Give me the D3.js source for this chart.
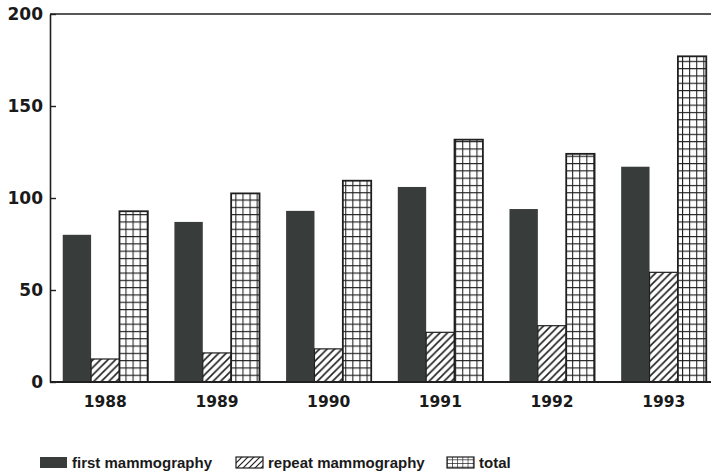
<html>
<head>
<script src="https://d3js.org/d3.v7.min.js"></script>
<style>
  body { margin: 0; background: #fff; }
  svg { display: block; }
</style>
</head>
<body>
<svg id="chart" width="711" height="474"></svg>
<script>
const years = ["1988", "1989", "1990", "1991", "1992", "1993"];
const series = ["first", "repeat", "total"];
const firstMammo = [80, 87, 93, 106, 94, 117];
const repeatMammo = [12.5, 15.8, 18, 27, 30.6, 59.6];
const totalMammo = [92.8, 102.5, 109.4, 131.7, 124, 177];
const yTicks = [0, 50, 100, 150, 200];
const legendLabels = ["first mammography", "repeat mammography", "total"];

const ink = "#1f1f1f", dark = "#383c3b";
const svg = d3.select("#chart");
const defs = svg.append("defs");

const x0 = d3.scaleBand().domain(years).range([51, 718]).paddingInner(0.238).paddingOuter(0.105);
const x1 = d3.scaleBand().domain(series).range([0, x0.bandwidth()]);
const y = d3.scaleLinear().domain([0, 200]).range([382, 14]);

const values = { first: firstMammo, repeat: repeatMammo, total: totalMammo };

// hatch pattern (/)
const hatch = defs.append("pattern").attr("id", "hatch")
  .attr("patternUnits", "userSpaceOnUse").attr("width", 7.5).attr("height", 7.5);
hatch.append("path").attr("d", "M-1,1 l2,-2 M0,7.5 l7.5,-7.5 M6.5,8.5 l2,-2")
  .attr("stroke", ink).attr("stroke-width", 1.6);

function gridPattern(id, x0p, y0p, w) {
  const p = defs.append("pattern").attr("id", id)
    .attr("patternUnits", "userSpaceOnUse")
    .attr("x", x0p).attr("y", y0p).attr("width", w).attr("height", 7.3);
  p.append("rect").attr("width", w).attr("height", 7.3).attr("fill", "#fff");
  p.append("path").attr("d", `M0,0 H${w} M0,0 V7.3`)
    .attr("stroke", ink).attr("stroke-width", 2.1).attr("fill", "none");
  return `url(#${id})`;
}

const rows = years.map((yr, i) => ({ year: yr, i }));
const groups = svg.selectAll("g.grp").data(rows).join("g")
  .attr("class", "grp")
  .attr("transform", d => `translate(${x0(d.year)},0)`);

groups.each(function(d) {
  const g = d3.select(this);
  series.forEach(s => {
    const v = values[s][d.i];
    const bx = x1(s), bw = x1.bandwidth();
    const r = g.append("rect")
      .attr("x", bx).attr("width", bw)
      .attr("y", y(v)).attr("height", y(0) - y(v));
    if (s === "first") r.attr("fill", dark);
    else if (s === "repeat") r.attr("fill", "url(#hatch)").attr("stroke", ink).attr("stroke-width", 1.2);
    else r.attr("fill", gridPattern("grid" + d.i, x0(d.year) + bx, y(0), bw / 4))
          .attr("stroke", ink).attr("stroke-width", 1.8);
  });
});

// frame lines
svg.append("line").attr("x1", 50).attr("x2", 711).attr("y1", 14).attr("y2", 14)
  .attr("stroke", ink).attr("stroke-width", 1.6);
svg.append("line").attr("x1", 50).attr("x2", 711).attr("y1", 382).attr("y2", 382)
  .attr("stroke", ink).attr("stroke-width", 1.8);

const yAxis = svg.append("g").attr("transform", "translate(50,0)")
  .call(d3.axisLeft(y).tickValues(yTicks).tickSizeInner(-6).tickSizeOuter(0).tickPadding(7));
yAxis.select(".domain").attr("stroke", ink).attr("stroke-width", 1.6);
yAxis.selectAll(".tick line").attr("stroke", ink).attr("stroke-width", 1.4);
yAxis.selectAll("text").attr("fill", "#1a1a1a")
  .style("font", "bold 17px 'DejaVu Sans'");

const xAxis = svg.append("g").attr("transform", "translate(0,382)")
  .call(d3.axisBottom(x0).tickSize(0).tickPadding(14));
xAxis.select(".domain").remove();
xAxis.selectAll("text").attr("fill", "#1a1a1a")
  .style("font", "bold 15.5px 'DejaVu Sans'");

// legend
const legX = [40, 236, 447];
const legFill = [dark, "url(#hatchL)", "url(#gridL)"];
const hl = defs.append("pattern").attr("id", "hatchL")
  .attr("patternUnits", "userSpaceOnUse").attr("width", 6).attr("height", 6);
hl.append("path").attr("d", "M-1,1 l2,-2 M0,6 l6,-6 M5,7 l2,-2")
  .attr("stroke", ink).attr("stroke-width", 1.2);
const gl = defs.append("pattern").attr("id", "gridL")
  .attr("patternUnits", "userSpaceOnUse").attr("x", 447).attr("y", 457)
  .attr("width", 26 / 5).attr("height", 11 / 3);
gl.append("rect").attr("width", 26 / 5).attr("height", 11 / 3).attr("fill", "#fff");
gl.append("path").attr("d", `M0,0 H${26 / 5} M0,0 V${11 / 3}`)
  .attr("stroke", ink).attr("stroke-width", 1.3);

const leg = svg.selectAll("g.leg").data(legendLabels).join("g").attr("class", "leg")
  .attr("transform", (d, i) => `translate(${legX[i]},457)`);
leg.append("rect").attr("width", 27).attr("height", 11)
  .attr("fill", (d, i) => legFill[i])
  .attr("stroke", (d, i) => i ? ink : "none").attr("stroke-width", 1.2);
leg.append("text").attr("x", 32).attr("y", 10.5)
  .attr("fill", "#1a1a1a")
  .style("font", "bold 15px 'Liberation Sans'")
  .text(d => d);
</script>
</body>
</html>
